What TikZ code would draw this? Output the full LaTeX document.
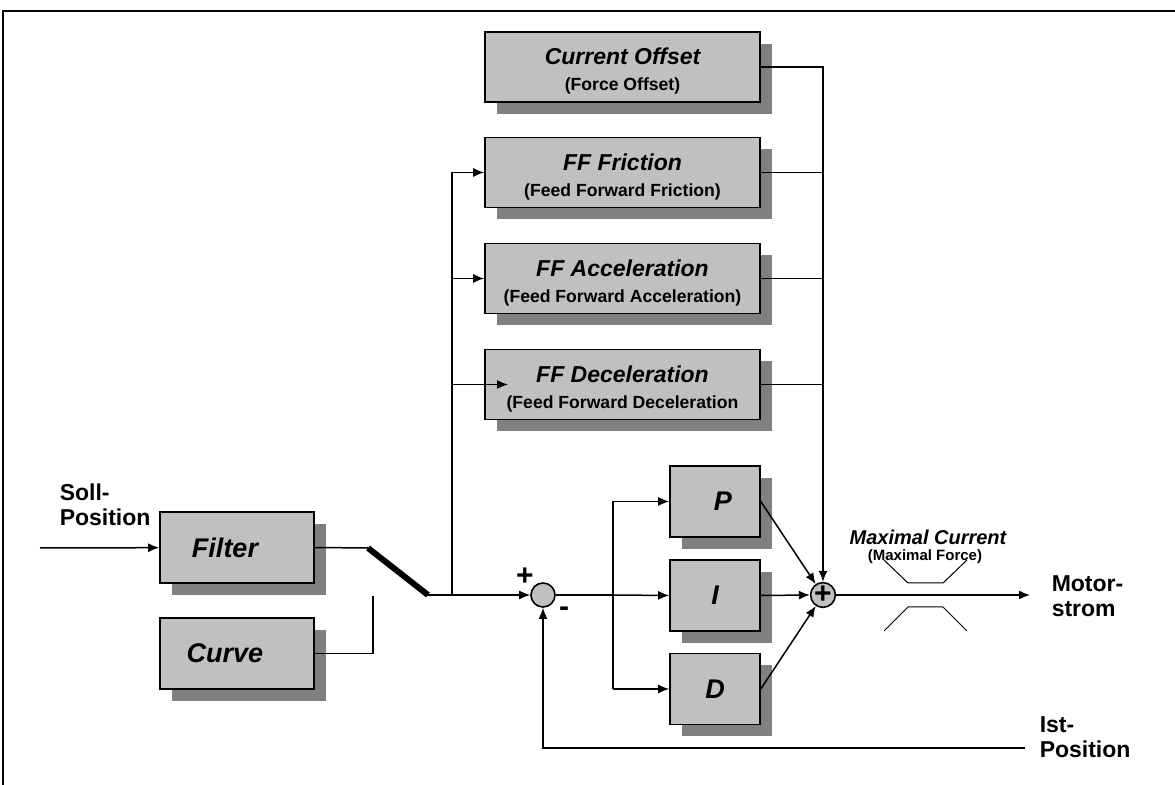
\documentclass[tikz,border=0pt]{standalone}
\usepackage{fontspec}
\setmainfont{Liberation Sans}
\setsansfont{Liberation Sans}
\usepackage{xcolor}
\usepackage{tikz}
\usetikzlibrary{calc}
\usetikzlibrary{arrows.meta}
\usetikzlibrary{shadows}
\tikzset{>={Latex[length=5.5pt,width=4.5pt]}}
\definecolor{boxgray}{HTML}{C0C0C0}
\definecolor{shadowgray}{HTML}{808080}
\tikzset{
	block/.style={draw,fill=boxgray,line width=0.8pt,inner sep=1pt,align=center,
		drop shadow={shadow xshift=6pt,shadow yshift=-6pt,fill=shadowgray,opacity=1}},
	ffblock/.style={block,minimum width=137.5pt,minimum height=35pt},
	inblock/.style={block,minimum width=77pt,minimum height=35.5pt,font=\fontsize{13.5}{15}\selectfont\bfseries\itshape},
	pidblock/.style={block,minimum width=45pt,minimum height=35.5pt,font=\fontsize{13.5}{15}\selectfont\bfseries\itshape},
	summer/.style={draw,fill=boxgray,circle,line width=0.8pt,minimum size=12pt,inner sep=0pt},
	sidelabel/.style={align=left,inner sep=0pt,font=\fontsize{11.5}{12.5}\selectfont\bfseries},
}
\newcommand{\fftitle}[2]{{\fontsize{11.5}{12}\selectfont\itshape\rule{0pt}{12.5pt}#1}\\[1pt]{\fontsize{8.8}{10}\selectfont #2}}

\begin{document}
\begin{tikzpicture}[x=0.5pt,y=-0.5pt,font=\sffamily\bfseries,line width=0.75pt]
	\useasboundingbox (0,0) rectangle (1175,785);
	\draw[line width=1pt] (1175,11) -- (3,11) -- (3,785);
	\node[ffblock] (offset) at (622.5,67) {\fftitle{Current Offset}{(Force Offset)}};
	\node[ffblock] (friction) at (622.5,172.5) {\fftitle{FF Friction}{(Feed Forward Friction)}};
	\node[ffblock] (accel) at (622.5,278.5) {\fftitle{FF Acceleration}{(Feed Forward Acceleration)}};
	\node[ffblock] (decel) at (622.5,384.5) {\fftitle{FF Deceleration}{(Feed Forward Deceleration}};
	\node[inblock] (filter) at (237,547.5) {Filter\hspace{12pt}};
	\node[inblock] (curve) at (237,653.5) {Curve\hspace{12pt}};
	\node[pidblock] (P) at (715,501.5) {\hspace{8pt}P};
	\node[pidblock] (I) at (715,595.5) {I};
	\node[pidblock] (D) at (715,689) {D};
	\node[summer] (sum1) at (543,595) {};
	\node[summer,font=\fontsize{15}{15}\selectfont\bfseries] (sum2) at (823,595) {\raisebox{-1.5pt}{+}};
	\node[font=\fontsize{15}{15}\selectfont\bfseries] (plus) at (525,577) {+};
	\node[font=\fontsize{15}{15}\selectfont\bfseries] (minus) at (564,612) {-};
	\node[sidelabel,anchor=west] (soll) at (59,505) {Soll-\\Position};
	\node[sidelabel,anchor=west] (motor) at (1051,596) {Motor-\\strom};
	\node[sidelabel,anchor=west] (ist) at (1039,737) {Ist-\\Position};
	\node[font=\fontsize{10}{10}\selectfont\bfseries\itshape] (maxcur) at (928,537) {Maximal Current};
	\node[font=\fontsize{7.5}{8}\selectfont\bfseries] (maxforce) at (925,557) {(Maximal Force)};
	\coordinate (sollin) at (40,548);
	\coordinate (swA) at (368,548);
	\coordinate (swB) at (428,595);
	\coordinate (swC) at (373,596);
	\coordinate (tap) at (452,595);
	\coordinate (decelin) at (508,384.5);
	\coordinate (pidtap) at (613,595);
	\coordinate (motorout) at (1030,595);
	\coordinate (istin) at (1025,748);
	\draw[->] (sollin) -- (filter);
	\draw (filter.east) -- (swA);
	\draw[line width=3pt] (swA) -- (swB);
	\draw (curve.east) -| (swC);
	\draw[->] (swB) -- (sum1.west);
	\draw[->] (tap) |- (friction.west);
	\draw[->] (tap |- accel.west) -- (accel.west);
	\draw[->] (tap |- decel.west) -- (decelin);
	\draw[line width=1.2pt] (sum1.east) -- (pidtap);
	\draw[->] (pidtap) -- (I.west);
	\draw[->] (pidtap |- P.west) -- (P.west);
	\draw (pidtap |- P.west) -- (pidtap |- D.west);
	\draw[->] (pidtap |- D.west) -- (D.west);
	\draw[->] (P.east) -- (sum2);
	\draw[->] (I.east) -- (sum2.west);
	\draw[->] (D.east) -- (sum2);
	\draw[->] (offset.east) -| (sum2.north);
	\draw (friction.east) -- (friction.east -| sum2);
	\draw (accel.east) -- (accel.east -| sum2);
	\draw (decel.east) -- (decel.east -| sum2);
	\draw[->] (sum2.east) -- (motorout);
	\draw[->] (istin) -| (sum1.south);
	\draw[line width=0.5pt] (884,560) -- (908,583) -- (943,583) -- (967,560);
	\draw[line width=0.5pt] (884,631) -- (908,607) -- (943,607) -- (967,631);
\end{tikzpicture}
\end{document}
